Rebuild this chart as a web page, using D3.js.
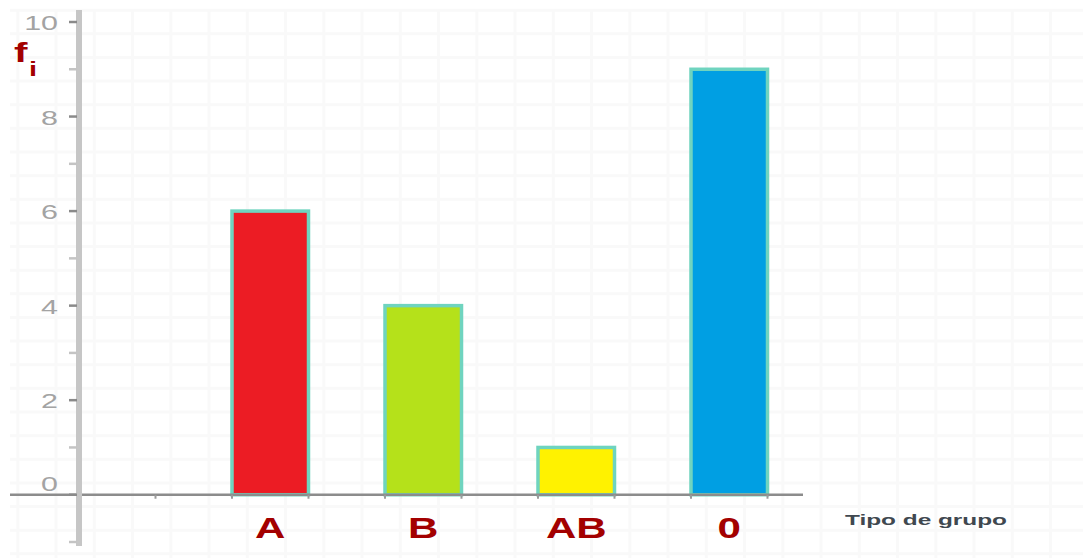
<!DOCTYPE html>
<html>
<head>
<meta charset="utf-8">
<script src="https://d3js.org/d3.v7.min.js"></script>
<style>
  body { margin: 0; background: #ffffff; }
  svg { display: block; font-family: "Liberation Sans", Arial, sans-serif; }
</style>
</head>
<body>
<div id="chart"></div>
<script>
// data
var categories = ["A", "B", "AB", "0"];
var frequencies = [6, 4, 1, 9];
var barStarts = [2, 4, 6, 8];      // bars sit between integer ticks on the x axis
var barColors = ["#ec1c24", "#b5e11a", "#fff200", "#009fe3"];
var yTickLabels = [0, 2, 4, 6, 8, 10];
var yTicks = [-1, 0, 1, 2, 3, 4, 5, 6, 7, 8, 9, 10];
var xTicks = [1, 2, 3, 4, 5, 6, 7, 8, 9];

var svgWidth = 1083;
var svgHeight = 558;
var stretch = 1.45;   // the original picture is stretched sideways

var svg = d3.select("#chart")
  .append("svg")
  .attr("width", svgWidth)
  .attr("height", svgHeight);

// scales
var xScale = d3.scaleLinear()
  .domain([0, 9])
  .range([79, 767.5]);

var yScale = d3.scaleLinear()
  .domain([-1, 10])
  .range([542, 22]);

// faint background grid
var gridX = d3.range(-0.8, 13.6, 0.5);
var gridY = d3.range(-1.25, 10.6, 0.5);

svg.append("g")
  .selectAll("line")
  .data(gridX)
  .enter()
  .append("line")
  .attr("x1", d => xScale(d))
  .attr("x2", d => xScale(d))
  .attr("y1", 10)
  .attr("y2", svgHeight)
  .attr("stroke", "#f9f9f9")
  .attr("stroke-width", 3);

svg.append("g")
  .selectAll("line")
  .data(gridY)
  .enter()
  .append("line")
  .attr("x1", 10)
  .attr("x2", svgWidth)
  .attr("y1", d => yScale(d))
  .attr("y2", d => yScale(d))
  .attr("stroke", "#f9f9f9")
  .attr("stroke-width", 3);

// bars
svg.append("g")
  .selectAll("rect")
  .data(frequencies)
  .enter()
  .append("rect")
  .attr("x", (d, i) => xScale(barStarts[i]))
  .attr("y", d => yScale(d))
  .attr("width", (d, i) => xScale(barStarts[i] + 1) - xScale(barStarts[i]))
  .attr("height", d => yScale(0) - yScale(d))
  .attr("fill", (d, i) => barColors[i])
  .attr("stroke", "#6fd4bf")
  .attr("stroke-width", 3.5);

// x axis line and small ticks
svg.append("line")
  .attr("x1", 10)
  .attr("x2", 803)
  .attr("y1", yScale(0))
  .attr("y2", yScale(0))
  .attr("stroke", "#8c8c8c")
  .attr("stroke-width", 2.5);

svg.append("g")
  .selectAll("line")
  .data(xTicks)
  .enter()
  .append("line")
  .attr("x1", d => xScale(d))
  .attr("x2", d => xScale(d))
  .attr("y1", yScale(0))
  .attr("y2", yScale(0) + 4)
  .attr("stroke", "#9a9a9a")
  .attr("stroke-width", 2);

// y axis: thick light bar
svg.append("line")
  .attr("x1", xScale(0))
  .attr("x2", xScale(0))
  .attr("y1", 10)
  .attr("y2", 546)
  .attr("stroke", "#c6c6c6")
  .attr("stroke-width", 6);

svg.append("g")
  .selectAll("line")
  .data(yTicks)
  .enter()
  .append("line")
  .attr("x1", xScale(0) - 10)
  .attr("x2", xScale(0) - 2)
  .attr("y1", d => yScale(d))
  .attr("y2", d => yScale(d))
  .attr("stroke", d => d % 2 === 0 ? "#8a8a8a" : "#c4c4c4")
  .attr("stroke-width", 2.5);

// y tick labels (0 is nudged up off the x axis)
svg.append("g")
  .selectAll("text")
  .data(yTickLabels)
  .enter()
  .append("text")
  .attr("transform", d => `translate(58, ${yScale(d) + (d === 0 ? -4 : 8)}) scale(${stretch}, 1)`)
  .attr("text-anchor", "end")
  .attr("font-size", 21)
  .attr("fill", "#a3a3a3")
  .text(d => d);

// category labels under the bars
svg.append("g")
  .selectAll("text")
  .data(categories)
  .enter()
  .append("text")
  .attr("transform", (d, i) => `translate(${xScale(barStarts[i] + 0.5)}, 538) scale(${stretch}, 1)`)
  .attr("text-anchor", "middle")
  .attr("font-size", 29)
  .attr("font-weight", "bold")
  .attr("fill", "#a30000")
  .text(d => d);

// x axis title
svg.append("text")
  .attr("x", 845)
  .attr("y", 525)
  .attr("font-size", 14)
  .attr("font-weight", "bold")
  .attr("fill", "#404850")
  .attr("textLength", 162)
  .attr("lengthAdjust", "spacingAndGlyphs")
  .text("Tipo de grupo");

// y axis title f with subscript i
var fLabel = svg.append("text")
  .attr("transform", `translate(14, 62) scale(${stretch}, 1)`)
  .attr("font-weight", "bold")
  .attr("fill", "#a30000");

fLabel.append("tspan")
  .attr("font-size", 28)
  .text("f");

fLabel.append("tspan")
  .attr("font-size", 20)
  .attr("dy", 14)
  .attr("dx", 1)
  .text("i");
</script>
</body>
</html>
